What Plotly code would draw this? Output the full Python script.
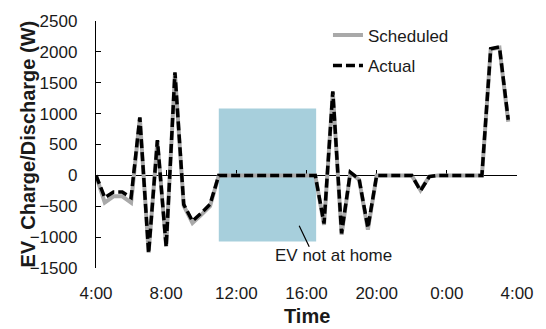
import pandas as pd
import plotly.graph_objects as go

# Half-hourly EV charge (+) / discharge (-) power over one day, in watts
times = pd.date_range("2000-01-01 04:00", periods=48, freq="30min")

scheduled_w = [0, -440, -340, -340, -440, 930, -1250, 560, -1150, 1650,
               -490, -770, -640, -500, 0,
               0, 0, 0, 0, 0, 0, 0, 0, 0, 0, 0,
               -800, 1350, -960, 40, -70, -880, 0,
               0, 0, 0, 0, -240, -20, 0,
               0, 0, 0, 0, 0, 2040, 2070, 870]

actual_w = [0, -360, -270, -270, -360, 940, -1260, 570, -1160, 1670,
            -470, -740, -610, -470, 0,
            0, 0, 0, 0, 0, 0, 0, 0, 0, 0, 0,
            -780, 1360, -940, 50, -60, -850, 0,
            0, 0, 0, 0, -250, -20, 0,
            0, 0, 0, 0, 0, 2050, 2080, 900]

# Period when the car is away
away_start = "2000-01-01 11:00"
away_end = "2000-01-01 16:33"
away_low, away_high = -1070, 1085

x_range = ["2000-01-01 04:00", "2000-01-02 04:00"]
y_range = [-1500, 2500]

FONT = "Liberation Sans, Arial, sans-serif"
TXT = "#1a1a1a"

fig = go.Figure()
fig.add_trace(go.Scatter(
    x=times, y=scheduled_w, name="Scheduled", mode="lines",
    line=dict(color="#a9a9a9", width=4), xaxis="x", yaxis="y",
    legend="legend", showlegend=True))
fig.add_trace(go.Scatter(
    x=times, y=actual_w, name="Actual", mode="lines",
    line=dict(color="black", width=3.5, dash="9px,4px"),
    xaxis="x2", yaxis="y", legend="legend2", showlegend=True))

fig.add_shape(type="rect", xref="x", yref="y",
              x0=away_start, x1=away_end, y0=away_low, y1=away_high,
              fillcolor="#a7cfdc", line_width=0, layer="below")

# Leader line and label for the away period
fig.add_annotation(x="2000-01-01 15:35", y=-814, xref="x", yref="y",
                   text=" ", font=dict(size=1), showarrow=True,
                   arrowhead=0, arrowwidth=1.2, arrowcolor="black",
                   ax=11, ay=23, standoff=0, startstandoff=0)
fig.add_annotation(x="2000-01-01 17:31", y=-1292, xref="x", yref="y",
                   text="EV not at home", showarrow=False,
                   xanchor="center", yanchor="middle",
                   font=dict(family=FONT, size=17, color=TXT))

# Axis titles
fig.add_annotation(x=0, y=0.5, xref="paper", yref="paper", xshift=-69,
                   text="<b>EV\u00a0\u00a0Charge/Discharge\u00a0(W)</b>",
                   textangle=-90, showarrow=False,
                   xanchor="center", yanchor="middle",
                   font=dict(family=FONT, size=20, color=TXT))
fig.add_annotation(x=0.5, y=0, xref="paper", yref="paper", yshift=-48,
                   text="<b>Time</b>", showarrow=False,
                   xanchor="center", yanchor="middle",
                   font=dict(family=FONT, size=20, color=TXT))

common_x = dict(range=x_range, type="date", tick0="2000-01-01 04:00",
                dtick=4 * 3600 * 1000, showgrid=False, zeroline=False)

fig.update_layout(
    width=546, height=329,
    margin=dict(l=96, r=27, t=17, b=61),
    paper_bgcolor="white", plot_bgcolor="white",
    showlegend=True,
    font=dict(family=FONT, size=17, color=TXT),
    xaxis=dict(**common_x, showline=False, ticks="",
               tickformat="%-H:%M", ticklabelstandoff=13,
               tickfont=dict(family=FONT, size=17, color=TXT)),
    xaxis2=dict(**common_x, overlaying="x", anchor="free",
                position=(0 - y_range[0]) / (y_range[1] - y_range[0]),
                side="bottom", showline=True, linecolor="black",
                linewidth=1.3, ticks="inside", ticklen=5,
                tickcolor="black", tickwidth=1.3,
                showticklabels=False, layer="below traces"),
    yaxis=dict(range=y_range, dtick=500, showgrid=False, zeroline=False,
               showline=True, linecolor="black", linewidth=1.3,
               ticks="inside", ticklen=5, tickcolor="black", tickwidth=1.3,
               ticklabelstandoff=14,
               tickfont=dict(family=FONT, size=17, color=TXT)),
    legend=dict(x=0.551, y=0.941, xanchor="left", yanchor="middle",
                bgcolor="rgba(0,0,0,0)", font=dict(size=17, color=TXT)),
    legend2=dict(x=0.551, y=0.818, xanchor="left", yanchor="middle",
                 bgcolor="rgba(0,0,0,0)", font=dict(size=17, color=TXT)),
)

fig.write_html("out.html")
